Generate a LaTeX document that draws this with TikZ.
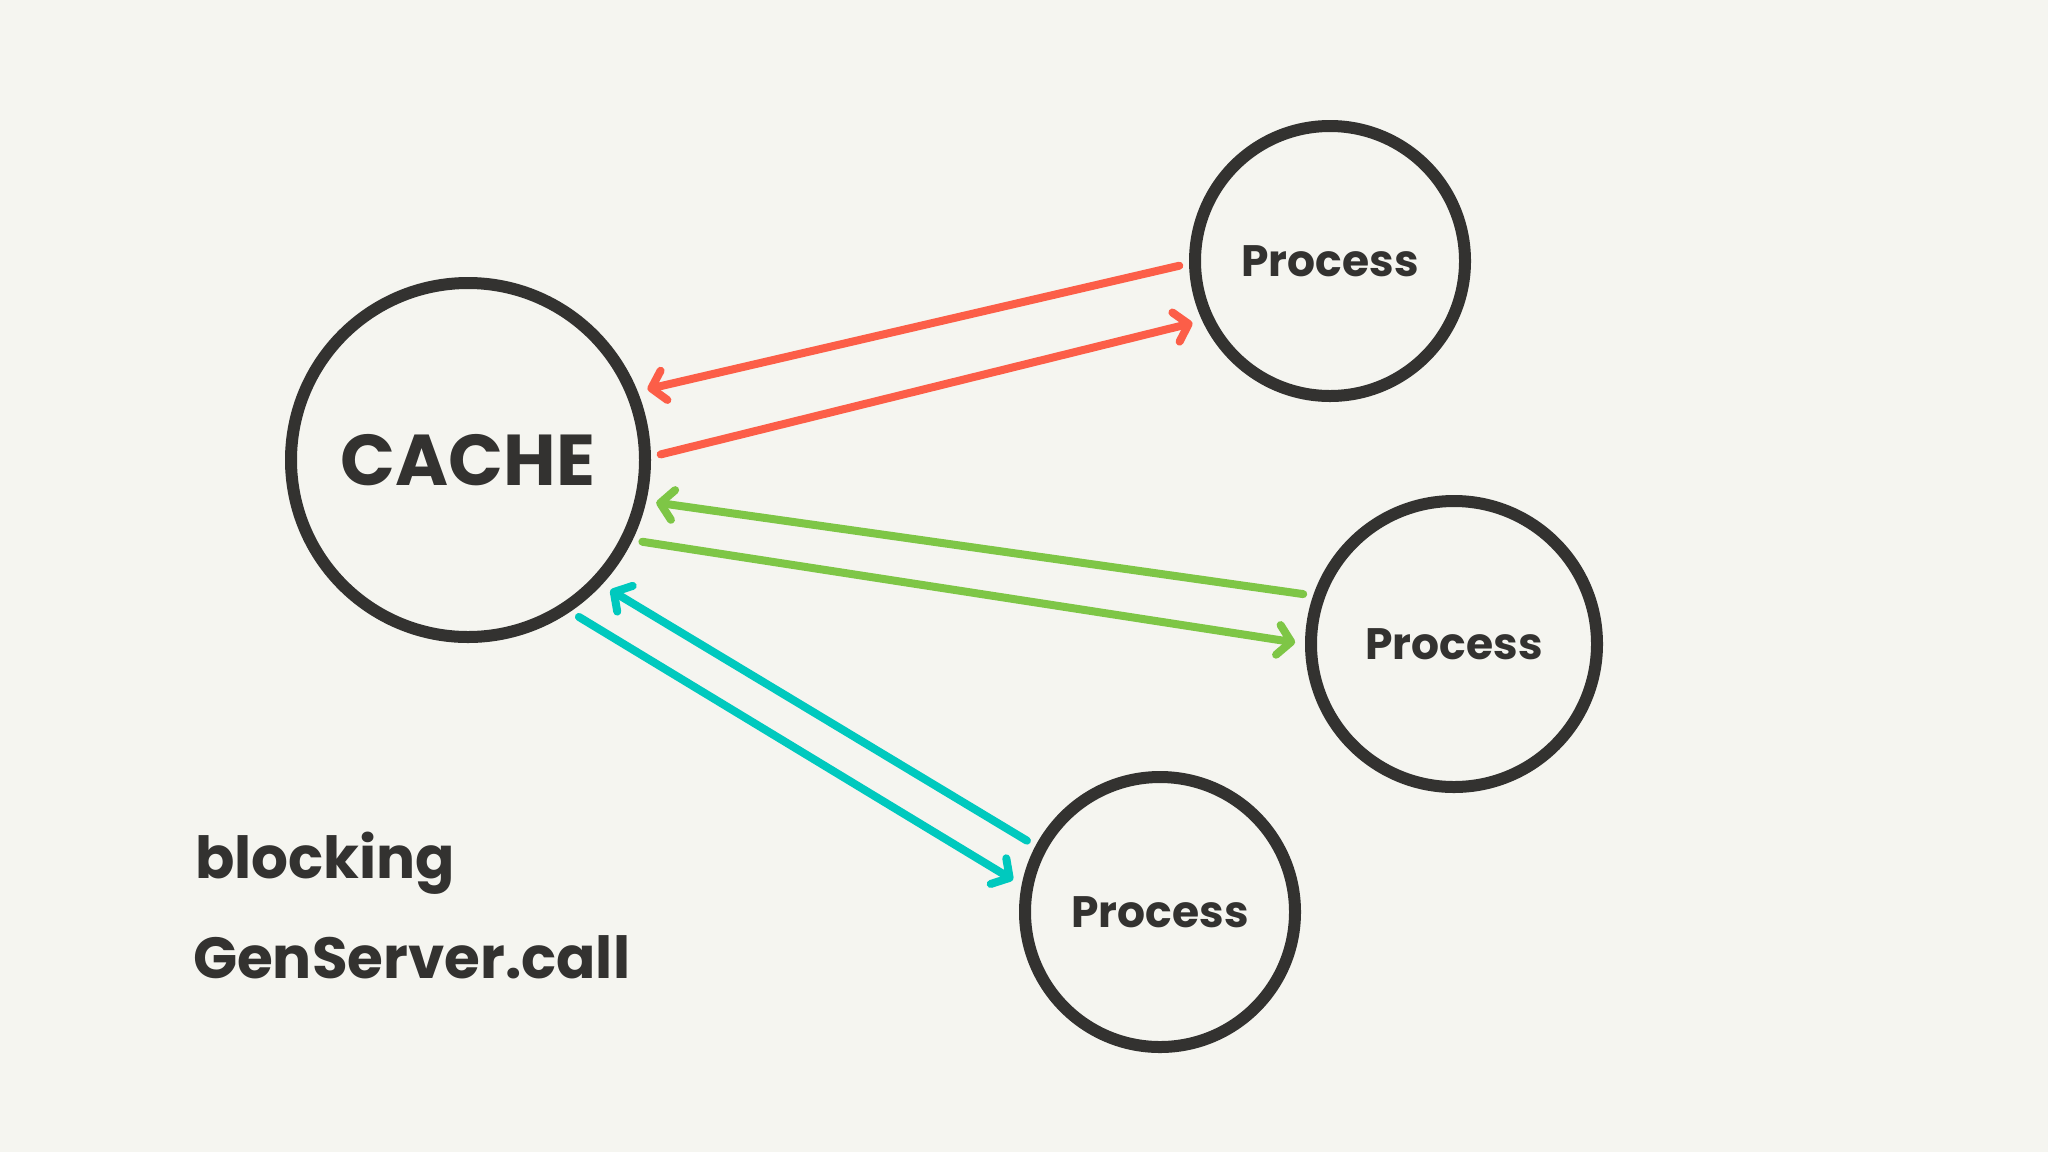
\documentclass[tikz,border=0pt]{standalone}
\usepackage{fontspec}
\setmainfont{Poppins}
\usepackage{tikz}
\usetikzlibrary{positioning, arrows.meta}

\definecolor{ink}{RGB}{51,50,48}
\definecolor{paper}{RGB}{245,245,240}
\definecolor{callred}{RGB}{252,94,72}
\definecolor{callgreen}{RGB}{126,198,70}
\definecolor{callcyan}{RGB}{0,201,190}

\begin{document}
\begin{tikzpicture}[x=0.5pt, y=-0.5pt,
  proc node/.style={circle, draw=ink, line width=6pt, minimum size=135pt, inner sep=0pt,
    text=ink, font=\fontsize{22}{26}\selectfont\bfseries},
  cache node/.style={proc node, minimum size=177pt, font=\fontsize{36}{40}\selectfont\bfseries},
  msg/.style={line width=4pt, line cap=round, shorten <=5pt, shorten >=5pt,
    -{Straight Barb[length=6.5pt, width=15pt, round]}},
  note/.style={anchor=base west, text=ink, font=\fontsize{29}{34}\selectfont\bfseries}]

\fill[paper] (0,0) rectangle (2048,1152);
\useasboundingbox (0,0) rectangle (2048,1152);

\node[cache node] (cache) at (468,460) {CACHE};
\node[proc node] (procA) at (1330,261) {Process};
\node[proc node, minimum size=143pt] (procB) at (1454,644) {Process};
\node[proc node] (procC) at (1160,912) {Process};

% calls and replies
\path
(procA.181) edge[msg, callred] (cache.22)
(cache.1) edge[msg, callred] (procA.205)
(procB.161) edge[msg, callgreen] (cache.-13)
(cache.-26) edge[msg, callgreen] (procB.180)
(procC.152) edge[msg, callcyan] (cache.-43)
(cache.-56) edge[msg, callcyan] (procC.169)
;

\node[note] (blocking) at (188,878) {blocking};
\node[note] (call) at (186,978) {GenServer.call};

\end{tikzpicture}
\end{document}
